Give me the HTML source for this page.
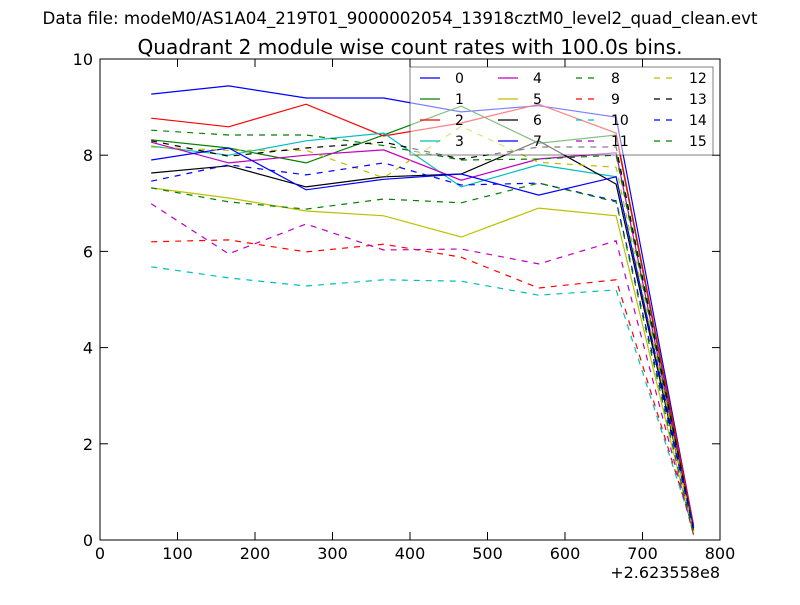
<!DOCTYPE html>
<html><head><meta charset="utf-8"><style>
body{margin:0;background:#fff;}
svg text{font-family:"DejaVu Sans","Liberation Sans",sans-serif;}
</style></head><body>
<svg id="chart" width="800" height="600" xmlns="http://www.w3.org/2000/svg">
<rect width="800" height="600" fill="#fff"/>
<text x="400" y="24" font-size="16.6" text-anchor="middle" textLength="715" lengthAdjust="spacingAndGlyphs">Data file: modeM0/AS1A04_219T01_9000002054_13918cztM0_level2_quad_clean.evt</text>
<text x="410" y="54" font-size="20" text-anchor="middle" textLength="545" lengthAdjust="spacingAndGlyphs">Quadrant 2 module wise count rates with 100.0s bins.</text>
<g id="plot"></g>
<g id="axes"></g>
<g id="legend"></g>
</svg>
<script>
const xValues=[66,166,266,366,466,566,666,766];
const xTicks=[0,100,200,300,400,500,600,700,800];
const yTicks=[0,2,4,6,8,10];
const s0=[9.27,9.44,9.19,9.19,8.90,9.03,8.79,0.3];
const s1=[8.32,8.15,7.84,8.42,9.02,8.25,8.42,0.2];
const s2=[8.77,8.59,9.06,8.40,8.67,9.06,8.46,0.3];
const s3=[8.19,8.0,8.3,8.46,7.34,7.8,7.55,0.25];
const s4=[8.27,7.84,8.0,8.11,7.48,7.92,8.05,0.2];
const s5=[7.32,7.11,6.84,6.74,6.3,6.9,6.74,0.1];
const s6=[7.63,7.78,7.34,7.55,7.61,8.3,7.4,0.2];
const s7=[7.9,8.15,7.28,7.5,7.61,7.17,7.55,0.25];
const s8=[8.52,8.42,8.42,8.2,7.9,7.92,8.0,0.15];
const s9=[6.2,6.24,5.99,6.15,5.88,5.24,5.41,0.2];
const s10=[5.68,5.45,5.28,5.41,5.38,5.09,5.2,0.2];
const s11=[6.99,5.95,6.57,6.03,6.05,5.74,6.22,0.1];
const s12=[8.17,8.1,8.1,7.53,8.6,7.85,7.75,0.15];
const s13=[8.3,7.98,8.15,8.27,7.92,8.17,8.17,0.2];
const s14=[7.46,7.8,7.59,7.84,7.38,7.42,7.05,0.25];
const s15=[7.32,7.03,6.88,7.09,7.01,7.42,7.03,0.1];
const series=[s0,s1,s2,s3,s4,s5,s6,s7,s8,s9,s10,s11,s12,s13,s14,s15];
const colors=['#0000ff','#008000','#ff0000','#00bfbf','#bf00bf','#bfbf00','#000000'];
const L=100,R=720,T=59,B=540;
const xs=v=>L+(v-0)/(800-0)*(R-L);
const ys=v=>B-(v-0)/(10-0)*(B-T);
const NS='http://www.w3.org/2000/svg';
function mk(tag,attrs,parent){const e=document.createElementNS(NS,tag);for(const k in attrs)e.setAttribute(k,attrs[k]);parent.appendChild(e);return e;}
const plot=document.getElementById('plot');
series.forEach((s,i)=>{
  const pts=s.map((v,j)=>xs(xValues[j]).toFixed(1)+','+ys(v).toFixed(1)).join(' ');
  const p=mk('polyline',{points:pts,fill:'none',stroke:colors[i%7],'stroke-width':1.2},plot);
  if(i>=8)p.setAttribute('stroke-dasharray','6,6');
  
  
});
const ax=document.getElementById('axes');
mk('rect',{x:L,y:T,width:R-L,height:B-T,fill:'none',stroke:'#000','stroke-width':1},ax);
xTicks.forEach(t=>{
  const x=xs(t);
  mk('line',{x1:x,y1:B,x2:x,y2:B-8,stroke:'#000'},ax);
  mk('line',{x1:x,y1:T,x2:x,y2:T+8,stroke:'#000'},ax);
  const tx=mk('text',{x:x,y:B+19,'font-size':16,'text-anchor':'middle'},ax);
  tx.textContent=t;
  
  
});
yTicks.forEach(t=>{
  const y=ys(t);
  mk('line',{x1:L,y1:y,x2:L+8,y2:y,stroke:'#000'},ax);
  mk('line',{x1:R,y1:y,x2:R-8,y2:y,stroke:'#000'},ax);
  const tx=mk('text',{x:L-7,y:y+6,'font-size':16,'text-anchor':'end'},ax);
  tx.textContent=t;
  
  
});
const off=mk('text',{x:720,y:578,'font-size':16,'text-anchor':'end'},ax);
off.textContent='+2.623558e8';


const lg=document.getElementById('legend');
mk('rect',{x:410,y:67,width:303,height:88,fill:'#fff','fill-opacity':0.5,stroke:'#000','stroke-opacity':0.5,'stroke-width':1},lg);
series.forEach((s,i)=>{
  const col=Math.floor(i/4),row=i%4;
  const x0=420+col*78,y0=78+row*21;
  const ln=mk('line',{x1:x0,y1:y0,x2:x0+20,y2:y0,stroke:colors[i%7],'stroke-width':1.2},lg);
  if(i>=8)ln.setAttribute('stroke-dasharray','6,6');
  const tx=mk('text',{x:x0+35,y:y0+5,'font-size':14},lg);
  tx.textContent=String(i);
  
  
});
</script>
</body></html>
